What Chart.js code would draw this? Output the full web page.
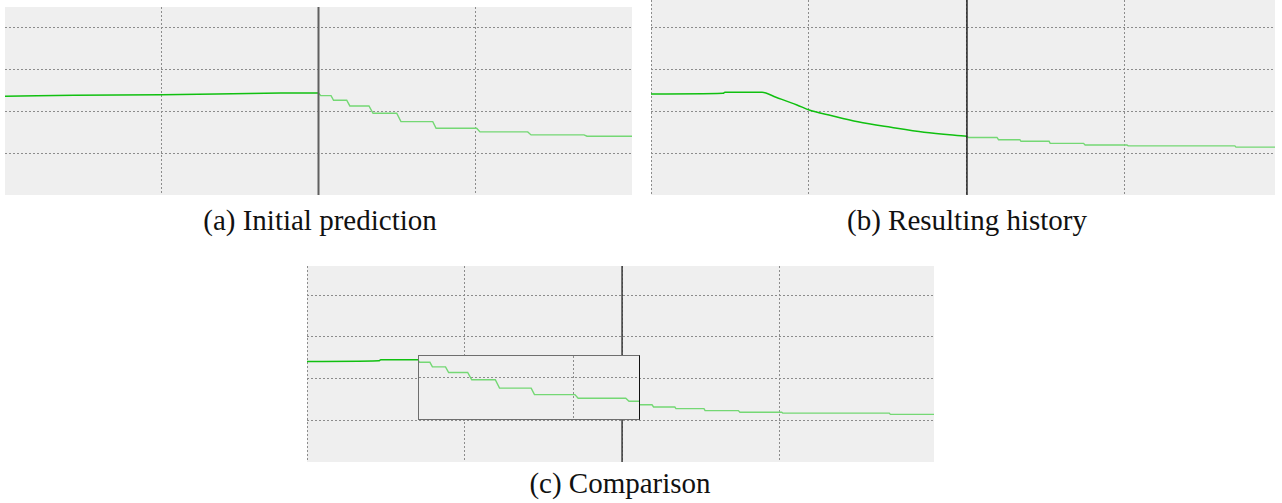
<!DOCTYPE html>
<html>
<head>
<meta charset="utf-8">
<script src="https://cdn.jsdelivr.net/npm/chart.js@4/dist/chart.umd.min.js"></script>
<style>
    body { margin: 0; width: 1282px; height: 503px; background: #ffffff; position: relative; overflow: hidden; }
    .panel { position: absolute; }
    .panel canvas { display: block; background: #efefef; }
    .inset { position: absolute; box-sizing: border-box; border: 1px solid #6e6e6e; border-right-color: #111; background: #efefef; }
    .inset canvas { display: block; }
    .caption { position: absolute; width: 260px; text-align: center; font-family: "Liberation Serif", serif; font-size: 29px; line-height: 29px; color: #111; white-space: nowrap; }
</style>
</head>
<body>

<div class="panel" style="left:5px; top:7px;"><canvas id="chartA" width="627" height="188"></canvas></div>
<div class="caption" style="left:190px; top:206px;">(a) Initial prediction</div>

<div class="panel" style="left:651px; top:0px;"><canvas id="chartB" width="624" height="195"></canvas></div>
<div class="caption" style="left:837px; top:206px;">(b) Resulting history</div>

<div class="panel" style="left:307px; top:266px;"><canvas id="chartC" width="627" height="196"></canvas></div>
<div class="inset" style="left:418px; top:355px; width:222px; height:65px;"><canvas id="chartInset" width="220" height="63"></canvas></div>
<div class="caption" style="left:490px; top:469px;">(c) Comparison</div>

<script>
// Time where the recorded history ends and the prediction starts
let cutX = 2;

// (a) recorded values before the cut
let historyX = [0, 0.204, 0.44, 0.714, 1.0, 1.35, 1.76, 2.0];
let historyY = [2.364, 2.378, 2.385, 2.395, 2.40, 2.419, 2.443, 2.443];

// (a) stepped prediction after the cut
let predictionX = [2.0, 2.014, 2.08, 2.096, 2.18, 2.20, 2.322, 2.348, 2.499, 2.526, 2.729, 2.75, 3.009, 3.03, 3.335, 3.356, 3.694, 3.713, 4.0];
let predictionY = [2.443, 2.378, 2.378, 2.268, 2.268, 2.132, 2.132, 1.957, 1.957, 1.756, 1.756, 1.598, 1.598, 1.51, 1.51, 1.438, 1.438, 1.407, 1.407];

// (b) history that actually happened up to the cut
let resultX = [0, 0.456, 0.468, 0.703, 0.791, 0.924, 1.006, 1.127, 1.31, 1.519, 1.728, 2.0];
let resultY = [2.409, 2.425, 2.449, 2.449, 2.33, 2.147, 2.02, 1.908, 1.748, 1.615, 1.496, 1.40];

// (b) new prediction after the cut
let resultRestX = [2.0, 2.01, 2.19, 2.2, 2.335, 2.342, 2.52, 2.527, 2.738, 2.748, 3.013, 3.02, 3.696, 3.703, 4.0];
let resultRestY = [1.40, 1.372, 1.372, 1.319, 1.319, 1.28, 1.28, 1.232, 1.232, 1.193, 1.193, 1.172, 1.172, 1.141, 1.141];

// Grid positions
let gridY = [1, 2, 3, 4];
let gridXA = [1, 2, 3];
let gridXB = [0, 1, 2, 3];
let insetGridX = [3];
let insetGridY = [2];

let darkGreen = "#10c010";
let lightGreen = "#74d874";

function toPoints(xs, ys) {
    return xs.map(function(x, i) { return {x: x, y: ys[i]}; });
}

function lineSet(xs, ys, color, width, smooth) {
    return {
        data: toPoints(xs, ys),
        borderColor: color,
        borderWidth: width,
        pointRadius: 0,
        fill: false,
        cubicInterpolationMode: smooth ? "monotone" : "default",
        tension: 0,
        order: 2,
    };
}

function cutLine(yMin, yMax, color, width) {
    return {
        data: [{x: cutX, y: yMin}, {x: cutX, y: yMax}],
        borderColor: color,
        borderWidth: width,
        pointRadius: 0,
        fill: false,
        order: 1,
    };
}

function axis(min, max, ticks) {
    return {
        type: "linear",
        min: min,
        max: max,
        afterBuildTicks: function(scale) {
            scale.ticks = ticks.map(function(v) { return {value: v}; });
        },
        ticks: { display: false },
        grid: { color: "#8c8c8c", lineWidth: 1, drawTicks: false },
        border: { display: false, dash: [2, 2] },
    };
}

function makeChart(id, datasets, xAxis, yAxis) {
    return new Chart(document.getElementById(id).getContext("2d"), {
        type: "line",
        data: { datasets: datasets },
        options: {
            responsive: false,
            animation: false,
            layout: { padding: 0 },
            plugins: { legend: { display: false }, tooltip: { enabled: false } },
            scales: { x: xAxis, y: yAxis },
        },
    });
}

// (a) Initial prediction
makeChart("chartA", [
    lineSet(historyX, historyY, darkGreen, 1.5, false),
    lineSet(predictionX, predictionY, lightGreen, 1.4, false),
    cutLine(0, 4.5, "#5f5f5f", 2),
], axis(0, 4, gridXA), axis(0, 4.5, gridY));

// (b) Resulting history
makeChart("chartB", [
    lineSet(resultX, resultY, darkGreen, 1.5, true),
    lineSet(resultRestX, resultRestY, lightGreen, 1.4, false),
    cutLine(0, 4.65, "#222222", 1.5),
], axis(0, 3.95, gridXB), axis(0, 4.65, gridY));

// (c) Comparison, with the initial prediction shown in a box
makeChart("chartC", [
    lineSet(resultX, resultY, darkGreen, 1.5, true),
    lineSet(resultRestX, resultRestY, lightGreen, 1.4, false),
    cutLine(0, 4.7, "#3a3a3a", 1.5),
], axis(0, 3.98, gridXB), axis(0, 4.7, gridY));

makeChart("chartInset", [
    lineSet(predictionX, predictionY, lightGreen, 1.4, false),
], axis(2.01, 3.42, insetGridX), axis(1.01, 2.53, insetGridY));
</script>
</body>
</html>
